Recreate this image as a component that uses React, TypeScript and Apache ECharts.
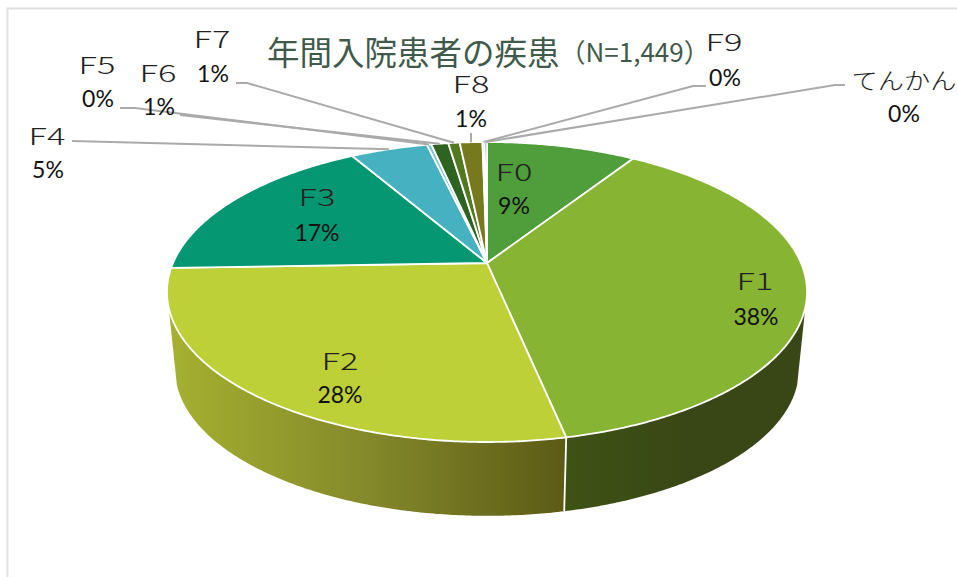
import React, { useEffect, useRef } from "react";
import * as echarts from "echarts";

const categories = ["F0", "F1", "F2", "F3", "F4", "F5", "F6", "F7", "F8", "F9", "てんかん"];
const patients = [132, 545, 402, 249, 68, 4, 15, 10, 20, 2, 2];
const titleMain = "年間入院患者の疾患";
const titleCount = "（N=1,449）";

const topColors = ["#4f9e3b", "#87b533", "#bdd037", "#049772", "#46b1c1", "#7cc6d6", "#2f6322", "#52791f", "#76791d", "#cfe3e0", "#067a70"];
const sideStops: Record<string, string[]> = {
  F1: ["#3f5214", "#394716", "#394616"],
  F2: ["#a5b130", "#84892a", "#5c5a16"],
};

// label centres: [nameX, nameY, pctX, pctY]; leader: start points in page pixels
const labelLayout: number[][] = [
  [514, 171, 514, 205], [755, 280, 756, 316], [340, 360, 340, 394], [317, 196, 317, 232],
  [47, 135, 48, 169], [97, 64, 98, 98], [158, 72, 159, 106], [212, 38, 213, 73],
  [471, 83, 471, 118], [724, 41, 725, 77], [904, 79, 904, 113],
];
const leaderStarts: (number[][] | null)[] = [
  null, null, null, null,
  [[72, 141]], [[120, 108], [135, 108]], [[180, 115]], [[236, 83], [247, 83]],
  [[471, 133]], [[706, 86], [693, 86]], [[845, 85], [835, 85]],
];

const total = patients.reduce((a, b) => a + b, 0);
const cumulative: number[] = [];
patients.reduce((acc, v, i) => {
  cumulative[i] = acc;
  return acc + v;
}, 0);

const CX = 487;
const K = 0.1934;
const rim = (deg: number, level: "top" | "bottom") => {
  const t = (deg * Math.PI) / 180;
  const X = Math.sin(t);
  const Y = Math.cos(t);
  const w = 1 + K * Y;
  if (level === "top") return [CX + (314 * X) / w, 263 - (144.4 * Y) / w];
  return [CX + (306 * X) / w, 341 - (141 * Y) / w];
};
const arc = (a: number, b: number, level: "top" | "bottom") => {
  const n = Math.max(2, Math.ceil(Math.abs(b - a) * 2));
  const pts: number[][] = [];
  for (let i = 0; i <= n; i++) pts.push(rim(a + ((b - a) * i) / n, level));
  return pts;
};
const startDeg = (i: number) => (cumulative[i] / total) * 360;
const endDeg = (i: number) => ((cumulative[i] + patients[i]) / total) * 360;
const toD = (pts: number[][], close: boolean) =>
  pts.map((p, i) => `${i ? "L" : "M"}${p[0].toFixed(2)} ${p[1].toFixed(2)}`).join("") + (close ? "Z" : "");

const SIDE_FROM = 107;
const SIDE_TO = 253;
const LABEL_NAME_FONT = "300 23px 'Noto Sans CJK JP'";
const LABEL_PCT_FONT = "400 23px Lato";

const sideItem = (params: any) => {
  const i = params.dataIndex;
  const a = Math.max(startDeg(i), SIDE_FROM);
  const b = Math.min(endDeg(i), SIDE_TO);
  if (a >= b) return { type: "group", children: [] };
  const pts = [...arc(a, b, "top"), ...arc(b, a, "bottom")];
  const stops = sideStops[categories[i]] || [topColors[i], topColors[i]];
  const fill = new echarts.graphic.LinearGradient(
    0, 0, 1, 0,
    stops.map((color, j) => ({ offset: j / (stops.length - 1), color }))
  );
  const children: any[] = [{ type: "path", shape: { pathData: toD(pts, true) }, style: { fill, stroke: null } }];
  if (b < SIDE_TO) {
    const p = rim(b, "top");
    const q = rim(b, "bottom");
    children.push({
      type: "line",
      shape: { x1: p[0], y1: p[1], x2: q[0], y2: q[1] },
      style: { stroke: "#ffffff", lineWidth: 1.8 },
      z2: 5,
    });
  }
  return { type: "group", children };
};

const topItem = (params: any) => {
  const i = params.dataIndex;
  const pts = [[CX, 263], ...arc(startDeg(i), endDeg(i), "top")];
  return {
    type: "path",
    shape: { pathData: toD(pts, true) },
    style: { fill: topColors[i], stroke: "#ffffff", lineWidth: 1.8, lineJoin: "round" },
  };
};

const labelItem = (params: any) => {
  const i = params.dataIndex;
  const [nx, ny, px, py] = labelLayout[i];
  const pct = `${Math.round((patients[i] / total) * 100)}%`;
  const children: any[] = [];
  const start = leaderStarts[i];
  if (start) {
    const end = rim((startDeg(i) + endDeg(i)) / 2, "top");
    children.push({
      type: "polyline",
      shape: { points: [...start, end] },
      style: { stroke: "#aaaaaa", lineWidth: 2, fill: null },
    });
  }
  children.push({
    type: "text",
    x: nx,
    y: ny,
    scaleX: categories[i].length > 2 ? 1.14 : 1.5,
    style: { text: categories[i], x: 0, y: 0, align: "center", verticalAlign: "middle", font: LABEL_NAME_FONT, fill: "#222222" },
  });
  children.push({
    type: "text",
    style: { text: pct, x: px, y: py, align: "center", verticalAlign: "middle", font: LABEL_PCT_FONT, fill: "#111111" },
  });
  return { type: "group", children };
};

export default function App() {
  const ref = useRef<HTMLDivElement>(null);
  useEffect(() => {
    document.body.style.margin = "0";
    const chart = echarts.init(ref.current!, undefined, { renderer: "svg" });
    const data = patients.map((value, i) => ({ name: categories[i], value }));
    chart.setOption({
      animation: false,
      backgroundColor: "#ffffff",
      tooltip: { show: false },
      graphic: [
        {
          type: "polyline",
          shape: { points: [[7.5, 577], [7.5, 8.5], [957, 8.5]] },
          style: { stroke: "#e0e0e0", lineWidth: 2, fill: null },
          silent: true,
        },
        {
          type: "text",
          x: 267,
          y: 50,
          style: {
            text: `{a|${titleMain}}{b|${titleCount}}`,
            verticalAlign: "middle",
            rich: {
              a: { font: "400 32.5px 'Noto Sans CJK JP'", fill: "#3f5a4a" },
              b: { font: "400 26px 'Noto Sans CJK JP'", fill: "#3f5a4a" },
            },
          },
          silent: true,
        },
      ],
      series: [
        { type: "custom", coordinateSystem: "none", renderItem: sideItem, data, z: 1, silent: true },
        { type: "custom", coordinateSystem: "none", renderItem: topItem, data, z: 2, silent: true },
        { type: "custom", coordinateSystem: "none", renderItem: labelItem, data, z: 3, silent: true },
      ],
    });
    return () => chart.dispose();
  }, []);
  return <div ref={ref} style={{ width: 957, height: 577 }} />;
}
